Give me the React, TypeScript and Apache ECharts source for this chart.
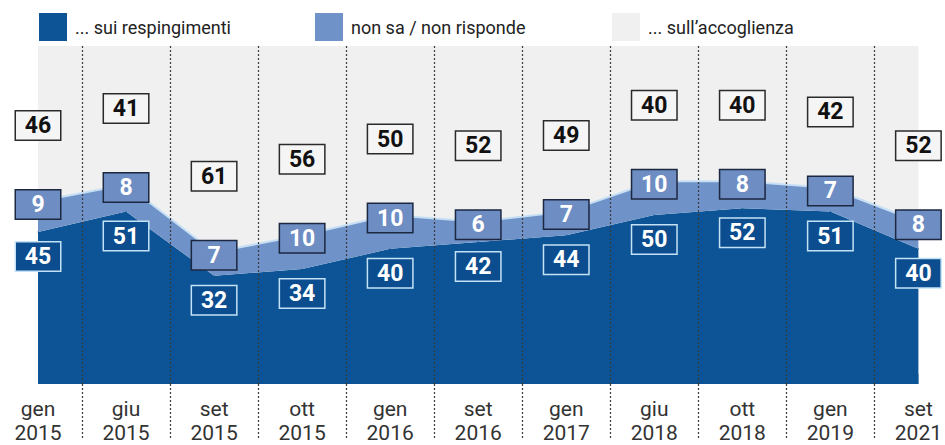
import React, { useEffect, useRef } from "react";
import * as echarts from "echarts";

const categories = [
  "gen\n2015", "giu\n2015", "set\n2015", "ott\n2015", "gen\n2016", "set\n2016",
  "gen\n2017", "giu\n2018", "ott\n2018", "gen\n2019", "set\n2021",
];
const respingimenti = [45, 51, 32, 34, 40, 42, 44, 50, 52, 51, 40];
const nonSa = [9, 8, 7, 10, 10, 6, 7, 10, 8, 7, 8];
const accoglienza = [46, 41, 61, 56, 50, 52, 49, 40, 40, 42, 52];

const seriesNames = ["... sui respingimenti", "non sa / non risponde", "... sull\u2019accoglienza"];

const DARK = "#0c5495";
const MID = "#6f92c8";
const LIGHT = "#f0f0f0";
const DIVIDER = "#3a3a3a";

const boxBase = {
  width: 44,
  height: 28,
  lineHeight: 28,
  padding: 0,
  fontSize: 23,
  fontWeight: "bold" as const,
  fontFamily: "Roboto, 'Noto Sans', sans-serif",
  borderWidth: 1.5,
};

export default function App() {
  const ref = useRef<HTMLDivElement>(null);

  useEffect(() => {
    if (!ref.current) return;
    const chart = echarts.init(ref.current, undefined, { renderer: "svg" });

    const dividerAxisData = Array.from({ length: categories.length * 2 - 1 }, (_, i) => String(i));
    const isMid = (i: number) => i % 2 === 1;
    const midStackTop = respingimenti.map((v, i) => v + nonSa[i]);

    const legendText = {
      fontSize: 18,
      color: "#222",
      fontFamily: "Roboto, sans-serif",
      padding: [0, 0, 0, 3],
    };
    const legendCommon = {
      top: 13,
      padding: 0,
      icon: "rect",
      itemWidth: 28,
      itemHeight: 28,
      selectedMode: false,
      textStyle: legendText,
      itemStyle: { borderWidth: 0 },
    };

    chart.setOption({
      animation: false,
      legend: [
        { ...legendCommon, left: 39, data: [seriesNames[0]] },
        { ...legendCommon, left: 315, data: [seriesNames[1]] },
        { ...legendCommon, left: 612, data: [seriesNames[2]] },
      ],
      grid: { left: 38, right: 23, top: 46, bottom: 55, containLabel: false },
      xAxis: [
        {
          type: "category",
          data: categories,
          boundaryGap: false,
          position: "bottom",
          axisLine: { show: false },
          axisTick: { show: false },
          splitLine: { show: false },
          axisLabel: {
            interval: 0,
            fontSize: 21,
            lineHeight: 24,
            color: "#333",
            margin: 13,
            fontFamily: "Roboto, 'Noto Sans', sans-serif",
          },
        },
        {
          type: "category",
          data: dividerAxisData,
          boundaryGap: false,
          position: "bottom",
          z: 5,
          axisLine: { show: false },
          axisLabel: { show: false },
          axisTick: {
            show: true,
            interval: (i: number) => isMid(i),
            length: 55,
            lineStyle: { color: DIVIDER, type: [2, 2], width: 1.2 },
          },
          splitLine: {
            show: true,
            interval: (i: number) => isMid(i),
            lineStyle: { color: DIVIDER, type: [2, 2], width: 1.2 },
          },
        },
      ],
      yAxis: { type: "value", min: 0, max: 100, show: false },
      series: [
        {
          name: seriesNames[0],
          type: "line",
          stack: "total",
          data: respingimenti,
          symbol: "circle",
          symbolSize: 1,
          itemStyle: { color: DARK },
          lineStyle: { width: 0, color: DARK },
          areaStyle: { color: DARK, opacity: 1 },
          label: {
            show: true,
            position: "bottom",
            distance: 10,
            ...boxBase,
            color: "#ffffff",
            backgroundColor: "#0b4d8e",
            borderColor: "#c4e2f6",
          },
          markArea: {
            silent: true,
            itemStyle: { color: "#1f4e83" },
            data: [[{ yAxis: 0 }, { yAxis: 3 }]],
          },
        },
        {
          name: seriesNames[1],
          type: "line",
          stack: "total",
          data: nonSa,
          symbol: "circle",
          symbolSize: 1,
          itemStyle: { color: MID },
          lineStyle: { width: 2, color: "#c6dff4" },
          areaStyle: { color: MID, opacity: 1 },
          label: {
            show: true,
            position: "inside",
            offset: [0, 3],
            ...boxBase,
            color: "#ffffff",
            backgroundColor: "#6d8dc3",
            borderColor: "#1c2740",
          },
        },
        {
          name: seriesNames[2],
          type: "line",
          stack: "total",
          data: accoglienza,
          symbol: "none",
          itemStyle: { color: LIGHT },
          lineStyle: { width: 0, color: LIGHT },
          areaStyle: { color: LIGHT, opacity: 1 },
        },
        {
          name: "__accoglienzaLabels",
          type: "line",
          data: midStackTop,
          symbol: "circle",
          symbolSize: 1,
          silent: true,
          z: 4,
          itemStyle: { color: "rgba(0,0,0,0)" },
          lineStyle: { width: 0, opacity: 0 },
          label: {
            show: true,
            position: "inside",
            offset: [0, -76],
            formatter: (p: any) => String(accoglienza[p.dataIndex]),
            ...boxBase,
            color: "#111111",
            backgroundColor: "#f5f5f5",
            borderColor: "#2a2a2a",
          },
        },
      ],
    });

    return () => chart.dispose();
  }, []);

  return (
    <div
      ref={ref}
      style={{ position: "fixed", left: 0, top: 0, width: 945, height: 445, background: "#ffffff" }}
    />
  );
}
